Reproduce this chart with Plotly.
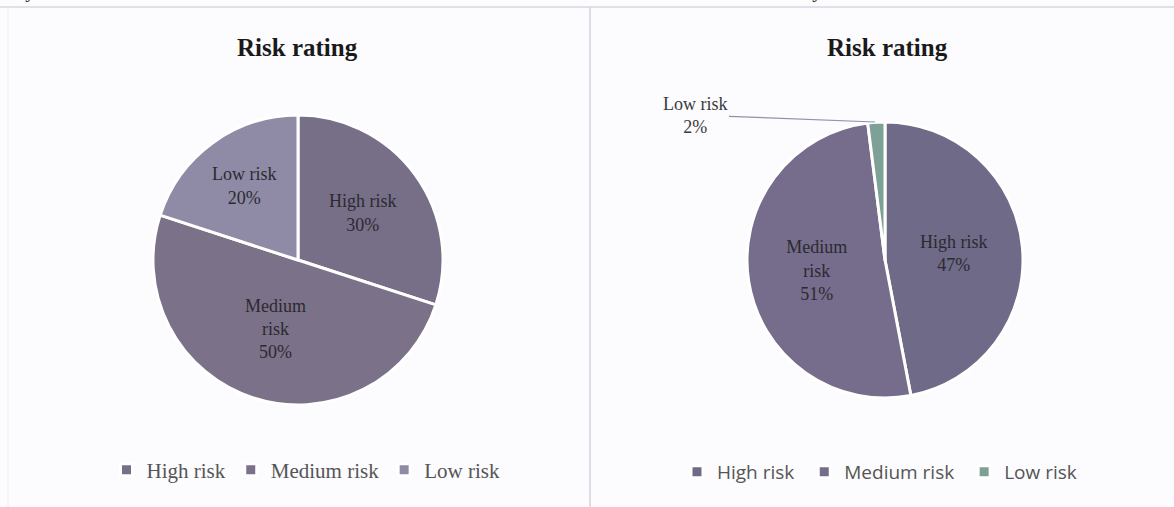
import plotly.graph_objects as go

W, H = 1174, 507

categories = ["High risk", "Medium risk", "Low risk"]
categories_value = ["High risk ", "Medium risk ", "Low risk "]
by_number = [30, 50, 20]
by_value = [47, 51, 2]
left_text = ["High risk", "Medium<br>risk", "Low risk"]
right_text = ["High risk", "Medium<br>risk", ""]

left_colors = ["#776f88", "#7b7189", "#8f8ba6"]
right_colors = ["#6f6a88", "#766c8c", "#7fa096"]

SERIF = "Liberation Serif, Times New Roman, serif"
SANS = "Open Sans, Liberation Sans, sans-serif"

def px_x(p):
    return p / W

def px_y(p):
    return 1 - p / H

fig = go.Figure()

fig.add_trace(go.Pie(
    labels=categories, values=by_number, text=left_text,
    texttemplate="%{text}<br>%{percent:.0%}",
    textposition="inside", insidetextorientation="horizontal",
    textfont=dict(family=SERIF, size=18, color="#2b2a30"),
    sort=False, direction="clockwise", rotation=0,
    marker=dict(colors=left_colors, line=dict(color="white", width=3)),
    domain=dict(x=[px_x(153), px_x(443)], y=[px_y(405), px_y(115)]),
    legend="legend", hoverinfo="label+percent",
))

fig.add_trace(go.Pie(
    labels=categories_value, values=by_value, text=right_text,
    texttemplate=["%{text}<br>%{percent:.0%}", "%{text}<br>%{percent:.0%}", ""],
    textposition=["inside", "inside", "none"], insidetextorientation="horizontal",
    textfont=dict(family=SERIF, size=18, color="#2b2a30"),
    sort=False, direction="clockwise", rotation=0,
    marker=dict(colors=right_colors, line=dict(color="white", width=3)),
    domain=dict(x=[px_x(747), px_x(1023)], y=[px_y(398), px_y(122)]),
    legend="legend2", hoverinfo="label+percent",
))

annotations = [
    dict(text="<b>Risk rating</b>", x=px_x(298), y=px_y(47), xref="paper", yref="paper",
         xanchor="center", yanchor="middle",
         showarrow=False, font=dict(family=SERIF, size=25, color="#1a1a1a")),
    dict(text="<b>Risk rating</b>", x=px_x(887), y=px_y(47), xref="paper", yref="paper",
         xanchor="center", yanchor="middle",
         showarrow=False, font=dict(family=SERIF, size=25, color="#1a1a1a")),
    dict(text="Low risk<br>2%", x=px_x(875), y=px_y(122), xref="paper", yref="paper",
         showarrow=True, arrowhead=0, arrowwidth=1.2, arrowcolor="#8d93ab",
         ax=-180, ay=-7, font=dict(family=SERIF, size=18, color="#3a3a40"),
         align="center"),
    dict(text="By number", x=px_x(10), y=px_y(-9), xref="paper", yref="paper",
         xanchor="left", yanchor="middle", showarrow=False,
         font=dict(family=SERIF, size=20, color="#333")),
    dict(text="By value", x=px_x(835), y=px_y(-9), xref="paper", yref="paper",
         xanchor="center", yanchor="middle", showarrow=False,
         font=dict(family=SERIF, size=20, color="#333")),
]

shapes = [
    dict(type="line", xref="paper", yref="paper", x0=0, x1=1, y0=px_y(7), y1=px_y(7),
         line=dict(color="#d9d6df", width=1.5)),
    dict(type="line", xref="paper", yref="paper", x0=px_x(590), x1=px_x(590), y0=0, y1=px_y(7),
         line=dict(color="#d6d2e0", width=1.5)),
    dict(type="line", xref="paper", yref="paper", x0=px_x(8), x1=px_x(8), y0=0, y1=px_y(7),
         line=dict(color="#eeecf2", width=1)),
]

fig.update_layout(
    width=W, height=H,
    margin=dict(l=0, r=0, t=0, b=0),
    paper_bgcolor="#fcfbfd", plot_bgcolor="#fcfbfd",
    annotations=annotations, shapes=shapes,
    legend=dict(orientation="h", x=px_x(306), y=px_y(470), xanchor="center", yanchor="middle",
                font=dict(family=SERIF, size=21, color="#555"), bgcolor="rgba(0,0,0,0)",
                itemwidth=30, traceorder="normal"),
    legend2=dict(orientation="h", x=px_x(882), y=px_y(472), xanchor="center", yanchor="middle",
                 font=dict(family=SANS, size=19, color="#555"), bgcolor="rgba(0,0,0,0)",
                 itemwidth=30, traceorder="normal"),
)

fig.write_html("out.html")
